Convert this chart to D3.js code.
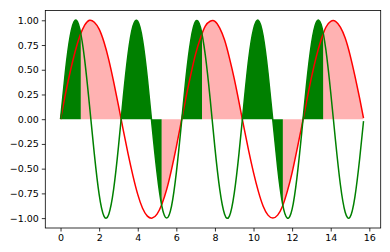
<!DOCTYPE html>
<html>
<head>
<meta charset="utf-8">
<script src="https://cdn.jsdelivr.net/npm/d3@7"></script>
<style>
	html, body { margin:0; padding:0; background:#fff; }
	text { font-family:"DejaVu Sans", sans-serif; }
</style>
</head>
<body>
<div id="chart"></div>
<script>
////////////////////////////////////////////////////
// values
////////////////////////////////////////////////////
var xValues = [0,0.25,0.5,0.75,1,1.25,1.5,1.75,2,2.25,2.5,2.75,3,3.25,3.5,3.75,
	4,4.25,4.5,4.75,5,5.25,5.5,5.75,6,6.25,6.5,6.75,7,7.25,7.5,7.75,
	8,8.25,8.5,8.75,9,9.25,9.5,9.75,10,10.25,10.5,10.75,11,11.25,11.5,11.75,
	12,12.25,12.5,12.75,13,13.25,13.5,13.75,14,14.25,14.5,14.75,15,15.25,15.5,15.7];

var redValues = [0,0.25,0.48,0.68,0.84,0.95,1.00,0.98,0.91,0.78,0.60,0.38,0.14,-0.11,-0.35,-0.57,
	-0.76,-0.90,-0.98,-1.00,-0.96,-0.86,-0.71,-0.51,-0.28,-0.03,0.22,0.45,0.66,0.82,0.94,0.99,
	0.99,0.92,0.80,0.62,0.41,0.17,-0.08,-0.32,-0.54,-0.73,-0.88,-0.97,-1.00,-0.97,-0.88,-0.73,
	-0.54,-0.31,-0.07,0.18,0.42,0.63,0.80,0.93,0.99,0.99,0.93,0.82,0.65,0.44,0.21,0.01];

var greenValues = [0,0.48,0.84,1.00,0.91,0.60,0.14,-0.35,-0.76,-0.98,-0.96,-0.71,-0.28,0.22,0.66,0.94,
	0.99,0.80,0.41,-0.08,-0.54,-0.88,-1.00,-0.88,-0.54,-0.07,0.42,0.80,0.99,0.93,0.65,0.21,
	-0.29,-0.71,-0.96,-0.98,-0.75,-0.34,0.15,0.61,0.91,1.00,0.84,0.47,-0.01,-0.49,-0.85,-1.00,
	-0.91,-0.59,-0.13,0.36,0.76,0.98,0.96,0.70,0.27,-0.22,-0.66,-0.94,-0.99,-0.79,-0.40,-0.02];

// x ranges where green is above red (green filled) / red above green (pink filled)
var greenSpans = [[0,1.05],[3.14,5.24],[6.28,7.33],[9.42,11.52],[12.57,13.61]];
var redSpans = [[1.05,3.14],[5.24,6.28],[7.33,9.42],[11.52,12.57],[13.61,15.7]];

var xTicks = [0,2,4,6,8,10,12,14,16];
var yTicks = [-1.00,-0.75,-0.50,-0.25,0.00,0.25,0.50,0.75,1.00];
////////////////////////////////////////////////////

function buildD3_FillBetween(theId) {
	var totalW=390, totalH=252;
	var left=45.3, right=380.7, top=10.4, bottom=228;

	var redData = xValues.map(function(x,i){ return {x:x, y:redValues[i]}; });
	var greenData = xValues.map(function(x,i){ return {x:x, y:greenValues[i]}; });

	var x = d3.scaleLinear().domain([-0.79, 16.59]).range([left, right]);
	var y = d3.scaleLinear().domain([-1.1, 1.1]).range([bottom, top]);

	var svgvis = d3.select("#"+theId).append("svg:svg")
		.attr("width", totalW)
		.attr("height", totalH);

	var defs = svgvis.append("defs");
	defs.append("clipPath").attr("id","clipGreen")
		.selectAll("rect")
		.data(greenSpans)
		.enter().append("rect")
			.attr("x", function(d){ return x(d[0]); })
			.attr("y", top)
			.attr("width", function(d){ return x(d[1]) - x(d[0]); })
			.attr("height", bottom - top);
	defs.append("clipPath").attr("id","clipRed")
		.selectAll("rect")
		.data(redSpans)
		.enter().append("rect")
			.attr("x", function(d){ return x(d[0]); })
			.attr("y", top)
			.attr("width", function(d){ return x(d[1]) - x(d[0]); })
			.attr("height", bottom - top);

	var area = d3.area()
		.x(function(d){ return x(d.x); })
		.y0(y(0))
		.y1(function(d){ return y(d.y); })
		.curve(d3.curveNatural);
	var line = d3.line()
		.x(function(d){ return x(d.x); })
		.y(function(d){ return y(d.y); })
		.curve(d3.curveNatural);

	// fills
	svgvis.append("path")
		.attr("d", area(greenData))
		.attr("fill", "#008000")
		.attr("clip-path", "url(#clipGreen)");
	svgvis.append("path")
		.attr("d", area(redData))
		.attr("fill", "#ff0000")
		.attr("fill-opacity", 0.3)
		.attr("clip-path", "url(#clipRed)");

	// lines
	svgvis.append("path")
		.attr("d", line(redData))
		.attr("fill", "none")
		.attr("stroke", "#ff0000")
		.attr("stroke-width", 1.5);
	svgvis.append("path")
		.attr("d", line(greenData))
		.attr("fill", "none")
		.attr("stroke", "#008000")
		.attr("stroke-width", 1.5);

	// axes
	var xAxis = d3.axisBottom(x).tickValues(xTicks).tickSize(3.5).tickPadding(3)
		.tickFormat(d3.format("d"));
	var yAxis = d3.axisLeft(y).tickValues(yTicks).tickSize(3.5).tickPadding(3)
		.tickFormat(d3.format(".2f"));

	var gx = svgvis.append("g")
		.attr("transform", "translate(0," + bottom + ")")
		.call(xAxis);
	var gy = svgvis.append("g")
		.attr("transform", "translate(" + left + ",0)")
		.call(yAxis);
	[gx, gy].forEach(function(g){
		g.select(".domain").remove();
		g.selectAll("text")
			.attr("font-size", "9.5px")
			.attr("font-family", "DejaVu Sans")
			.attr("fill", "#000");
		g.selectAll("line").attr("stroke", "#000").attr("stroke-width", 0.8);
	});

	// frame
	svgvis.append("rect")
		.attr("x", left)
		.attr("y", top)
		.attr("width", right - left)
		.attr("height", bottom - top)
		.attr("fill", "none")
		.attr("stroke", "#000")
		.attr("stroke-width", 0.8);
};

buildD3_FillBetween("chart");
</script>
</body>
</html>
